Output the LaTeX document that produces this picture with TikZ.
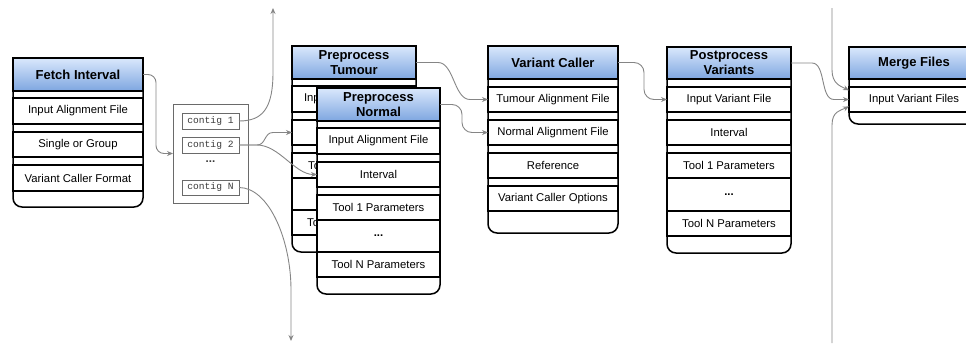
\documentclass[tikz,border=0pt]{standalone}
\usepackage{fontspec}
\setmainfont{Liberation Sans}
\newfontfamily\monof{Liberation Mono}
\usetikzlibrary{arrows.meta,calc}
\definecolor{hdrtop}{HTML}{DAE8FC}
\definecolor{hdrbot}{HTML}{7EA6E0}
\definecolor{conncol}{HTML}{858585}
\definecolor{cbord}{HTML}{6A6A6A}
\definecolor{ctext}{HTML}{3A3A3A}
\tikzset{
  ctnr/.style={draw=black, line width=1.5pt, fill=white, rounded corners=9pt, anchor=north west, inner sep=0pt, outer sep=0pt},
  thead/.style={draw=black, line width=1.5pt, top color=hdrtop, bottom color=hdrbot, anchor=north west, inner sep=0pt, outer sep=0pt, align=center, font=\bfseries\fontsize{13}{15}\selectfont},
  trow/.style={draw=black, line width=1.5pt, fill=white, anchor=north west, inner sep=0pt, outer sep=0pt, font=\fontsize{11.3}{13}\selectfont},
  cgroup/.style={draw=cbord, line width=0.9pt, fill=white, anchor=north west, inner sep=0pt, outer sep=0pt},
  ccell/.style={draw=cbord, line width=0.9pt, fill=white, anchor=north west, inner sep=0pt, outer sep=0pt, text=ctext, font=\monof\fontsize{9.6}{11}\selectfont, minimum width=57pt},
  conn/.style={draw=conncol, line width=0.9pt, -{Stealth[length=6pt,width=5pt]}},
}
\begin{document}
\begin{tikzpicture}[x=1pt,y=-1pt]
\useasboundingbox (0,0) rectangle (966,343);
\clip (0,0) rectangle (966,343);

% Fetch Interval
\node[ctnr, minimum width=130pt, minimum height=149pt] (fetch) at (13,58) {};
\node[thead, minimum width=130pt, minimum height=33pt] (fetchH) at (13,58) {Fetch Interval};
\node[trow, minimum width=130pt, minimum height=26pt] (fetchR1) at (13,98) {Input Alignment File};
\node[trow, minimum width=130pt, minimum height=25pt] (fetchR2) at (13,132) {Single or Group};
\node[trow, minimum width=130pt, minimum height=26pt] (fetchR3) at (13,165) {Variant Caller Format};

% contigs
\node[cgroup, minimum width=75pt, minimum height=99pt] (cbox) at (173,104) {};
\node[ccell, minimum height=16pt] (c1) at (182,113) {contig 1};
\node[ccell, minimum height=16pt] (c2) at (182,137) {contig 2};
\node[font=\bfseries\fontsize{11.5}{12}\selectfont, text=ctext, inner sep=0pt] (cdots) at (210.5,161.5) {...};
\node[ccell, minimum height=15pt] (cN) at (182,180) {contig N};

% Preprocess Tumour
\node[ctnr, minimum width=124pt, minimum height=206pt] (tum) at (292,46) {};
\node[thead, minimum width=124pt, minimum height=33pt] (tumH) at (292,46) {Preprocess\\Tumour};
\node[trow, minimum width=124pt, minimum height=26pt] (tumR1) at (292,86) {Input Alignment File};
\node[trow, minimum width=124pt, minimum height=25pt] (tumR2) at (292,120) {Interval};
\node[trow, minimum width=124pt, minimum height=25pt] (tumR3) at (292,153) {Tool 1 Parameters};
\node[trow, minimum width=124pt, minimum height=32pt] (tumR4) at (292,178) {\textbf{...}};
\node[trow, minimum width=124pt, minimum height=25pt] (tumR5) at (292,210) {Tool N Parameters};

% Preprocess Normal
\node[ctnr, minimum width=123pt, minimum height=206pt] (nor) at (317,88) {};
\node[thead, minimum width=123pt, minimum height=33pt] (norH) at (317,88) {Preprocess\\Normal};
\node[trow, minimum width=123pt, minimum height=26pt] (norR1) at (317,128) {Input Alignment File};
\node[trow, minimum width=123pt, minimum height=25pt] (norR2) at (317,162) {Interval};
\node[trow, minimum width=123pt, minimum height=25pt] (norR3) at (317,195) {Tool 1 Parameters};
\node[trow, minimum width=123pt, minimum height=32pt] (norR4) at (317,220) {\textbf{...}};
\node[trow, minimum width=123pt, minimum height=25pt] (norR5) at (317,252) {Tool N Parameters};

% Variant Caller
\node[ctnr, minimum width=130pt, minimum height=187pt] (vc) at (488,46) {};
\node[thead, minimum width=130pt, minimum height=33pt] (vcH) at (488,46) {Variant Caller};
\node[trow, minimum width=130pt, minimum height=25pt] (vcR1) at (488,87) {Tumour Alignment File};
\node[trow, minimum width=130pt, minimum height=25pt] (vcR2) at (488,120) {Normal Alignment File};
\node[trow, minimum width=130pt, minimum height=25pt] (vcR3) at (488,153) {Reference};
\node[trow, minimum width=130pt, minimum height=25pt] (vcR4) at (488,186) {Variant Caller Options};

% Postprocess Variants
\node[ctnr, minimum width=124pt, minimum height=206pt] (pp) at (667,47) {};
\node[thead, minimum width=124pt, minimum height=32pt] (ppH) at (667,47) {Postprocess\\Variants};
\node[trow, minimum width=124pt, minimum height=25pt] (ppR1) at (667,87) {Input Variant File};
\node[trow, minimum width=124pt, minimum height=25pt] (ppR2) at (667,120) {Interval};
\node[trow, minimum width=124pt, minimum height=25pt] (ppR3) at (667,153) {Tool 1 Parameters};
\node[trow, minimum width=124pt, minimum height=33pt] (ppR4) at (667,178) {\textbf{...}};
\node[trow, minimum width=124pt, minimum height=25pt] (ppR5) at (667,211) {Tool N Parameters};

% Merge Files
\node[ctnr, minimum width=130pt, minimum height=77pt] (mg) at (849,47) {};
\node[thead, minimum width=130pt, minimum height=32pt] (mgH) at (849,47) {Merge Files};
\node[trow, minimum width=130pt, minimum height=25pt] (mgR1) at (849,87) {Input Variant Files};

% free ends
\coordinate (up) at (273,8);
\coordinate (down) at (291,341);
\coordinate (topsrc) at (832,8);
\coordinate (botsrc) at (832,343);

% connectors
\draw[conn, rounded corners=8pt] (fetchH.east) -- ++(13,0) |- (cbox.west);
\draw[conn] (c1.east) .. controls +(24,0) and +(0,36) .. (up |- 0,72) -- (up);
\draw[conn] (cN.east) .. controls +(30,0) and +(0,-50) .. (down |- 0,290) -- (down);
\draw[conn] (c2.east) -- ++(18,0) .. controls +(9,0) and +(-9,0) .. ++(16,-12.5) -- (tumR2.west);
\draw[conn] (c2.east) -- ++(18,0) .. controls +(22,0) and +(-22,0) .. (norR2.west);
\draw[conn] (tumH.east) -- ++(22,0) .. controls +(16,0) and +(-16,0) .. ++(32,37) -- (vcR1.west);
\draw[conn, rounded corners=10pt] (norH.east) -- ++(22,0) |- (vcR2.west);
\draw[conn, rounded corners=10pt] (vcH.east) -- ++(26,0) |- (ppR1.west);
\draw[conn] (ppH.east) -- ++(21,0) .. controls +(14,0) and +(-14,0) .. ++(22,36.5) -- (mgR1.west);
\draw[conn] (topsrc) -- (topsrc |- 0,70) .. controls +(0,14) and +(-8,-4) .. (mgR1.172);
\draw[conn] (botsrc) -- (botsrc |- 0,125) .. controls +(0,-14) and +(-8,4) .. (mgR1.186);
\end{tikzpicture}
\end{document}
